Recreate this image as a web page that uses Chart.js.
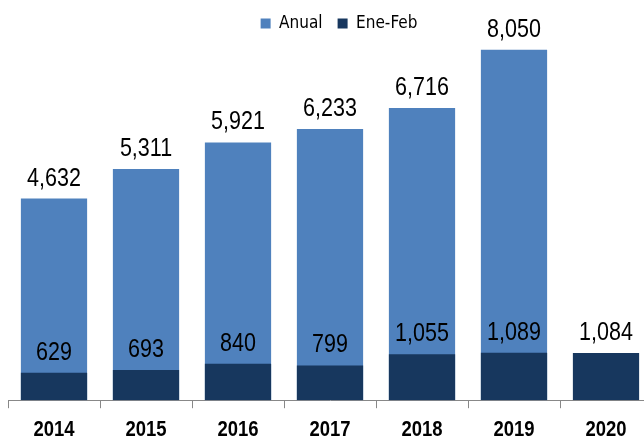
<!DOCTYPE html>
<html>
<head>
<meta charset="utf-8">
<script src="https://cdn.jsdelivr.net/npm/chart.js@4"></script>
<style>
html,body{margin:0;padding:0;background:#fff;overflow:hidden;}
#wrap{position:relative;width:654px;height:453px;}
</style>
</head>
<body>
<div id="wrap"><canvas id="c"></canvas></div>
<script>
const categories = ['2014','2015','2016','2017','2018','2019','2020'];
const anual = [4632, 5311, 5921, 6233, 6716, 8050, null];
const eneFeb = [629, 693, 840, 799, 1055, 1089, 1084];
const seriesNames = ['Anual', 'Ene-Feb'];

const labelFont = "25px 'Liberation Sans', Arial, sans-serif";
const tickFont = "bold 22px 'Liberation Sans', Arial, sans-serif";

const valueLabels = {
  id: 'valueLabels',
  afterDatasetsDraw(chart) {
    const ctx = chart.ctx;
    chart.data.datasets.forEach((ds, i) => {
      const meta = chart.getDatasetMeta(i);
      meta.data.forEach((el, j) => {
        const v = ds.data[j];
        if (v === null || v === undefined) return;
        ctx.save();
        ctx.font = labelFont;
        ctx.fillStyle = '#000';
        ctx.textAlign = 'center';
        ctx.textBaseline = 'alphabetic';
        ctx.translate(el.x, el.y - 13);
        ctx.scale(0.86, 1);
        ctx.fillText(v.toLocaleString('en-US'), 0, 0);
        ctx.restore();
      });
    });
  }
};

// Draws the x-axis category labels in a condensed bold face, positioned by the x scale
const narrowTicks = {
  id: 'narrowTicks',
  afterDraw(chart) {
    const ctx = chart.ctx;
    const xs = chart.scales.x;
    chart.data.labels.forEach((lab, i) => {
      ctx.save();
      ctx.font = tickFont;
      ctx.fillStyle = '#000';
      ctx.textAlign = 'center';
      ctx.textBaseline = 'alphabetic';
      ctx.translate(xs.getPixelForValue(i), xs.top + 36);
      ctx.scale(0.84, 1);
      ctx.fillText(lab, 0, 0);
      ctx.restore();
    });
  }
};

const legendShift = {
  id: 'legendShift',
  afterLayout(chart) {
    if (chart.legend) { chart.legend.left += 9; chart.legend.right += 9; }
  }
};

new Chart(document.getElementById('c'), {
  type: 'bar',
  data: {
    labels: categories,
    datasets: [
      { label: seriesNames[1], data: eneFeb, backgroundColor: '#17375E', borderWidth: 0 },
      { label: seriesNames[0], data: anual, backgroundColor: '#4F81BD', borderWidth: 0 }
    ]
  },
  options: {
    responsive: true,
    maintainAspectRatio: false,
    animation: false,
    layout: { padding: { left: 8, right: 2, top: 0, bottom: 2 } },
    datasets: { bar: { categoryPercentage: 1, barPercentage: 0.72 } },
    plugins: {
      tooltip: { enabled: false },
      legend: {
        display: true,
        position: 'top',
        reverse: true,
        labels: {
          boxWidth: 10,
          boxHeight: 10,
          padding: 15,
          color: '#000',
          font: { family: "'DejaVu Sans Condensed', 'DejaVu Sans', sans-serif", size: 17 }
        }
      }
    },
    scales: {
      x: {
        stacked: true,
        offset: true,
        grid: { offset: true, drawOnChartArea: false, drawTicks: true, tickLength: 8, color: '#888' },
        border: { display: true, color: '#888', width: 1 },
        ticks: {
          color: 'rgba(0,0,0,0)',
          padding: 10,
          font: { family: "'Liberation Sans', Arial, sans-serif", size: 19, weight: 'bold' }
        }
      },
      y: {
        display: false,
        stacked: false,
        min: 0,
        max: 8230
      }
    }
  },
  plugins: [valueLabels, narrowTicks, legendShift]
});
</script>
</body>
</html>
